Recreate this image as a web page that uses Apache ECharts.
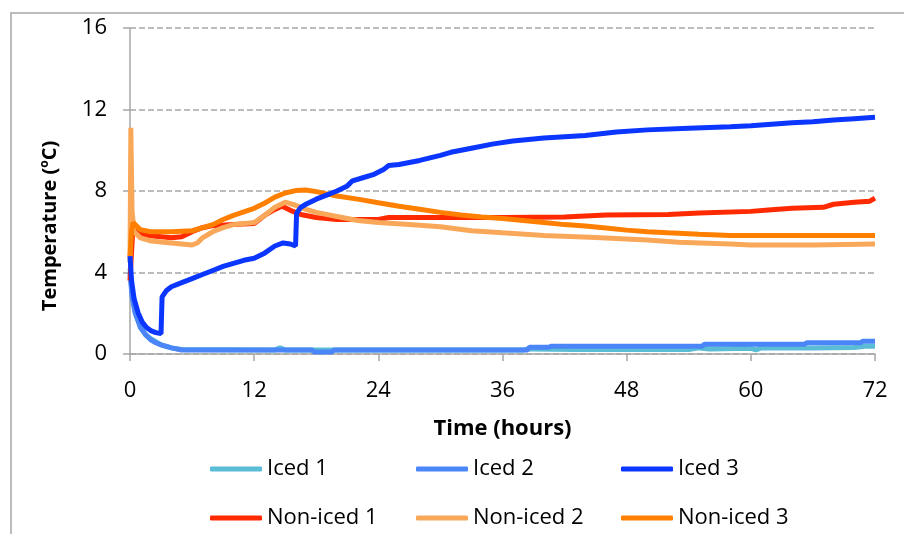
<!DOCTYPE html>
<html>
<head>
<meta charset="utf-8">
<script src="https://cdn.jsdelivr.net/npm/echarts@6/dist/echarts.min.js"></script>
<style>
  html, body { margin: 0; padding: 0; background: #fff; }
  #chart { width: 904px; height: 534px; }
</style>
</head>
<body>
<div id="chart"></div>
<script>
// time (hours), temperature (ºC)
var iced1 = [[0,4.2],[0.2,3.0],[0.5,2.1],[1,1.35],[1.5,0.95],[2,0.75],[2.5,0.6],[3,0.45],[4,0.3],[5,0.22],
  [14,0.2],[14.5,0.3],[15,0.2],[26,0.2],[38,0.2],[38.5,0.25],[43,0.22],[54,0.22],[55,0.3],[56,0.25],
  [60,0.28],[60.5,0.2],[61,0.3],[66,0.3],[70,0.32],[71,0.38],[72,0.38]];
var iced2 = [[0,4.0],[0.2,2.8],[0.5,2.0],[1,1.3],[1.5,0.95],[2,0.7],[2.5,0.55],[3,0.45],[4,0.3],[5,0.2],
  [17.6,0.2],[17.8,0.1],[19.5,0.1],[19.7,0.2],[38.4,0.2],[38.6,0.33],[40.5,0.33],[40.7,0.38],[55.3,0.38],
  [55.5,0.48],[65.2,0.48],[65.4,0.55],[70.6,0.55],[70.8,0.62],[72,0.62]];
var iced3 = [[0,4.8],[0.15,3.6],[0.4,2.7],[0.8,2.0],[1.2,1.55],[1.6,1.3],[2,1.15],[2.5,1.05],[3,1.0],
  [3.1,2.8],[3.5,3.1],[4,3.3],[5,3.5],[6,3.7],[7,3.9],[8,4.1],[9,4.3],[10,4.45],[11,4.6],[12,4.7],
  [13,4.95],[14,5.3],[14.8,5.45],[15.5,5.4],[16,5.3],[16.1,6.9],[16.5,7.2],[17,7.35],[18,7.6],[19,7.8],
  [20,8.0],[21,8.25],[21.5,8.5],[22.5,8.65],[23.5,8.8],[24.5,9.05],[25,9.25],[26,9.3],[28,9.5],[30,9.75],
  [31,9.9],[33,10.1],[35,10.3],[37,10.45],[40,10.6],[44,10.72],[47,10.9],[50,11.0],[54,11.08],[58,11.15],
  [60,11.2],[62,11.28],[64,11.35],[66,11.4],[68,11.48],[70,11.55],[72,11.62]];
var nonIced1 = [[0,3.6],[0.15,5.0],[0.3,6.3],[0.6,6.1],[1,5.9],[2,5.8],[3,5.75],[4,5.7],[5,5.75],[6,6.0],
  [7,6.2],[8,6.3],[10,6.35],[12,6.4],[13,6.8],[14,7.1],[14.7,7.25],[15.5,7.05],[16.5,6.85],[18,6.7],
  [20,6.6],[24,6.6],[25,6.7],[30,6.7],[36,6.7],[42,6.72],[46,6.82],[52,6.85],[55,6.92],[60,7.0],
  [62,7.08],[64,7.15],[67,7.2],[68,7.35],[70,7.45],[71.5,7.5],[72,7.65]];
var nonIced2 = [[0,4.5],[0.08,11.1],[0.2,7.0],[0.4,6.0],[1,5.7],[2,5.55],[3,5.5],[4,5.45],[5,5.4],[6,5.35],
  [6.5,5.45],[7,5.7],[8,6.0],[9,6.2],[10,6.35],[12,6.45],[13,6.8],[14,7.2],[15,7.45],[16,7.3],[17,7.1],
  [18,6.95],[20,6.75],[22,6.55],[24,6.45],[27,6.35],[30,6.25],[33,6.05],[36,5.95],[40,5.82],[45,5.72],
  [50,5.6],[53,5.48],[58,5.4],[60,5.35],[66,5.35],[72,5.4]];
var nonIced3 = [[0,4.8],[0.15,6.0],[0.3,6.45],[0.6,6.3],[1,6.1],[2,6.0],[4,6.0],[6,6.05],[8,6.35],[9,6.6],
  [10,6.8],[12,7.15],[13,7.4],[14,7.7],[15,7.9],[16,8.02],[17,8.05],[18,7.97],[20,7.75],[22,7.6],[24,7.42],
  [26,7.25],[28,7.1],[30,6.95],[32,6.82],[34,6.72],[36,6.65],[38,6.55],[40,6.45],[42,6.35],[44,6.28],
  [46,6.18],[48,6.08],[50,6.0],[52,5.95],[55,5.88],[58,5.82],[72,5.82]];

var names = ['Iced 1', 'Iced 2', 'Iced 3', 'Non-iced 1', 'Non-iced 2', 'Non-iced 3'];
var colors = ['#5BBCD6', '#4A86F7', '#0A36FF', '#FF2A00', '#F9A85A', '#FF7F00'];
var seriesData = [iced1, iced2, iced3, nonIced1, nonIced2, nonIced3];

var font = '"Open Sans", "Liberation Sans", sans-serif';
var gray = '#A6A6A6';

var chart = echarts.init(document.getElementById('chart'), null, { renderer: 'canvas' });

// one legend per item so columns line up like the original
var legendPos = [[210, 458], [416, 458], [621, 458], [210, 507], [416, 507], [621, 507]];
var legends = names.map(function (n, i) {
  return {
    data: [n],
    left: legendPos[i][0],
    top: legendPos[i][1],
    padding: 0,
    icon: 'roundRect',
    itemWidth: 52,
    itemHeight: 5,
    selectedMode: false,
    textStyle: { fontFamily: font, fontSize: 22, color: '#000' }
  };
});

var option = {
  animation: false,
  backgroundColor: '#fff',
  grid: { left: 130, right: 29, top: 28, bottom: 180 },
  legend: legends,
  graphic: [
    {
      type: 'rect',
      shape: { x: 11, y: 13, width: 920, height: 560 },
      style: { fill: 'none', stroke: gray, lineWidth: 1.5 },
      silent: true
    },
    {
      type: 'text',
      x: 50, y: 226,
      rotation: Math.PI / 2,
      style: {
        text: '{b|Temperature (}{s|o}{b|C)}',
        align: 'center',
        verticalAlign: 'middle',
        rich: {
          b: { fontFamily: font, fontSize: 20, fontWeight: 'bold', fill: '#000' },
          s: { fontFamily: font, fontSize: 12, fontWeight: 'bold', fill: '#000', padding: [0, 0, 10, 0] }
        }
      }
    }
  ],
  xAxis: {
    type: 'value',
    min: 0, max: 72, interval: 12,
    name: 'Time (hours)',
    nameLocation: 'middle',
    nameGap: 64,
    nameTextStyle: { fontFamily: font, fontSize: 22, fontWeight: 'bold', color: '#000' },
    axisLine: { lineStyle: { color: gray, width: 1.5 } },
    axisTick: { show: true, length: 7, lineStyle: { color: gray, width: 1.5 } },
    axisLabel: { margin: 26, fontFamily: font, fontSize: 22, color: '#000' },
    splitLine: { show: false }
  },
  yAxis: {
    type: 'value',
    min: 0, max: 16, interval: 4,
    axisLine: { show: true, lineStyle: { color: gray, width: 1.5 } },
    axisTick: { show: true, length: 7, lineStyle: { color: gray, width: 1.5 } },
    axisLabel: { margin: 23, fontFamily: font, fontSize: 22, color: '#000' },
    splitLine: { show: true, lineStyle: { color: gray, width: 1.5, type: [6, 3] } }
  },
  series: names.map(function (n, i) {
    return {
      name: n,
      type: 'line',
      data: seriesData[i],
      showSymbol: false,
      color: colors[i],
      lineStyle: { width: 5, color: colors[i] },
      z: i === 2 ? 5 : 2
    };
  })
};

chart.setOption(option);
</script>
</body>
</html>
